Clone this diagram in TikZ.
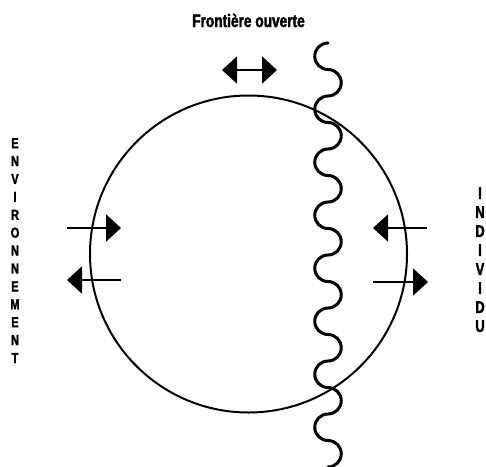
\documentclass[tikz,border=0pt]{standalone}
\usepackage{fontspec}
\usetikzlibrary{arrows.meta}
\newfontfamily\sketchfont{Liberation Sans}[FakeStretch=0.76, BoldFeatures={FakeBold=2}]

\tikzset{
  label text/.style={font=\sketchfont\bfseries, inner sep=0pt},
  flow/.style={line width=2pt, -{Triangle[length=15pt,width=27pt]}},
  wave/.style={line width=3pt, line cap=round}
}

\begin{document}
\begin{tikzpicture}[x=1pt, y=-1pt]
\useasboundingbox (0,0) rectangle (486,466);

% titre et etiquettes
\node [label text, font=\sketchfont\bfseries\fontsize{18}{18}\selectfont, anchor=base] (frontiere) at (248.5,27) {Frontière ouverte};
\node [label text, font=\sketchfont\bfseries\fontsize{14.5}{17.9}\selectfont, align=center, anchor=north] (environnement) at (15,138) {E\\N\\V\\I\\R\\O\\N\\N\\E\\M\\E\\N\\T};
\node [label text, font=\sketchfont\bfseries\fontsize{17}{19}\selectfont, align=center, anchor=north] (individu) at (480,187) {I\\N\\D\\I\\V\\I\\D\\U};

% le systeme
\coordinate (O) at (248.5,254);
\draw [line width=2pt] (O) circle (158.5);

% la frontiere
\coordinate (W) at (328,43);
\draw [wave] (W) \foreach \i in {1,...,8} {arc [start angle=270, end angle=90, radius=13.25] arc [start angle=270, end angle=450, radius=13.25]};

% echanges
\coordinate (T1) at (222,70);
\coordinate (T2) at (277,70);
\coordinate (L1) at (67,228);
\coordinate (L2) at (121,228);
\coordinate (L3) at (121,280);
\coordinate (L4) at (67,280);
\coordinate (R1) at (427,228);
\coordinate (R2) at (373,228);
\coordinate (R3) at (373,282);
\coordinate (R4) at (428,282);

\draw [flow, {Triangle[length=15pt,width=27pt]}-{Triangle[length=15pt,width=27pt]}] (T1) -- (T2);
\draw [flow] (L1) -- (L2);
\draw [flow] (L3) -- (L4);
\draw [flow] (R1) -- (R2);
\draw [flow] (R3) -- (R4);
\end{tikzpicture}
\end{document}
